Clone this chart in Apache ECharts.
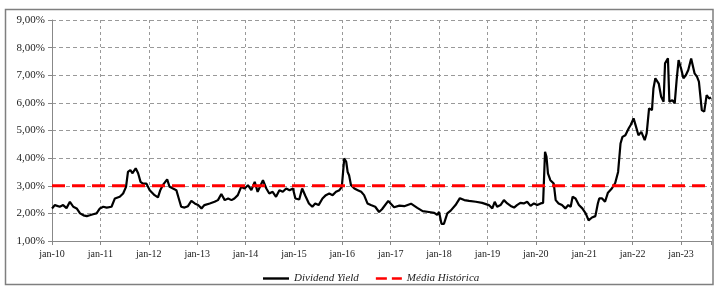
<!DOCTYPE html>
<html>
<head>
<meta charset="UTF-8">
<title>Dividend Yield</title>
<script src="https://cdn.jsdelivr.net/npm/echarts@6/dist/echarts.min.js"></script>
<style>
  html, body { margin: 0; padding: 0; background: #fff; }
  #chart { width: 714px; height: 286px; }
</style>
</head>
<body>
<div id="chart"></div>
<script>
// anos em fração decimal (2010 = jan-10)
var xMin = 2010, xMax = 2023.62;
var mediaHistorica = 3.0;
var yTicks = [1, 2, 3, 4, 5, 6, 7, 8, 9];

var anos = [
  0.00, 0.06, 0.16, 0.23, 0.30, 0.37, 0.44, 0.51, 0.58, 0.65, 0.72, 0.78, 0.85, 0.92, 0.99,
  1.06, 1.13, 1.23, 1.30, 1.40, 1.47, 1.53, 1.57, 1.62, 1.66, 1.73, 1.78, 1.83, 1.88, 1.95,
  2.02, 2.12, 2.19, 2.24, 2.29, 2.38, 2.43, 2.50, 2.57, 2.62, 2.67, 2.74, 2.81, 2.88, 2.95,
  3.02, 3.09, 3.15, 3.26, 3.36, 3.43, 3.50, 3.57, 3.64, 3.71, 3.77, 3.84, 3.91, 3.98,
  4.05, 4.12, 4.19, 4.25, 4.36, 4.43, 4.49, 4.56, 4.63, 4.70, 4.77, 4.84, 4.91, 4.98,
  5.03, 5.11, 5.17, 5.24, 5.31, 5.38, 5.44, 5.51, 5.59, 5.66, 5.73, 5.80, 5.87, 5.94, 5.99,
  6.04, 6.08, 6.11, 6.14, 6.18, 6.25, 6.32, 6.39, 6.45, 6.52, 6.59, 6.68, 6.76, 6.82, 6.95,
  7.07, 7.18, 7.28, 7.42, 7.55, 7.66, 7.79, 7.90, 7.96,
  8.00, 8.05, 8.10, 8.17, 8.24, 8.34, 8.43, 8.52, 8.62, 8.76, 8.89,
  9.03, 9.10, 9.15, 9.20, 9.27, 9.34, 9.41, 9.48, 9.55, 9.61, 9.68, 9.75, 9.82, 9.89, 9.96,
  10.03, 10.10, 10.15, 10.19, 10.22, 10.25, 10.30, 10.37, 10.41, 10.47, 10.54, 10.61, 10.67,
  10.72, 10.76, 10.82, 10.89, 10.96,
  11.03, 11.09, 11.16, 11.23, 11.28, 11.31, 11.37, 11.43, 11.49, 11.57, 11.64, 11.70, 11.75,
  11.79, 11.85, 11.92, 11.96,
  12.02, 12.07, 12.12, 12.18, 12.25, 12.29, 12.34, 12.40, 12.43, 12.47, 12.54, 12.59, 12.64,
  12.67, 12.73, 12.76, 12.82, 12.87, 12.91, 12.95,
  13.00, 13.05, 13.10, 13.15, 13.21, 13.28, 13.33, 13.37, 13.43, 13.48, 13.53, 13.58, 13.62
];

var dividendYield = [
  2.18, 2.30, 2.24, 2.30, 2.19, 2.42, 2.24, 2.18, 2.00, 1.93, 1.90, 1.93, 1.97, 2.00, 2.18,
  2.24, 2.21, 2.24, 2.54, 2.60, 2.72, 2.96, 3.50, 3.57, 3.45, 3.63, 3.45, 3.14, 3.08, 3.08,
  2.84, 2.66, 2.58, 2.85, 3.02, 3.23, 2.96, 2.90, 2.84, 2.54, 2.24, 2.21, 2.26, 2.45, 2.36,
  2.30, 2.18, 2.30, 2.36, 2.42, 2.48, 2.70, 2.48, 2.54, 2.48, 2.54, 2.66, 2.96, 2.90,
  3.02, 2.84, 3.14, 2.78, 3.20, 2.90, 2.72, 2.78, 2.60, 2.84, 2.78, 2.90, 2.84, 2.90,
  2.54, 2.50, 2.90, 2.62, 2.36, 2.24, 2.36, 2.30, 2.54, 2.66, 2.72, 2.66, 2.78, 2.84, 2.96,
  3.99, 3.87, 3.50, 3.38, 3.02, 2.90, 2.84, 2.78, 2.66, 2.36, 2.30, 2.24, 2.05, 2.15, 2.45,
  2.22, 2.28, 2.26, 2.35, 2.20, 2.08, 2.05, 2.02, 1.95,
  2.05, 1.62, 1.62, 2.00, 2.10, 2.30, 2.55, 2.48, 2.45, 2.42, 2.38,
  2.30, 2.18, 2.42, 2.24, 2.30, 2.48, 2.36, 2.27, 2.21, 2.30, 2.38, 2.36, 2.42, 2.27, 2.36,
  2.30, 2.36, 2.38, 4.23, 4.05, 3.45, 3.20, 3.08, 2.48, 2.36, 2.30, 2.18, 2.30,
  2.24, 2.60, 2.54, 2.30, 2.18,
  2.00, 1.75, 1.85, 1.90, 2.35, 2.54, 2.54, 2.42, 2.75, 2.90, 3.10, 3.50, 4.53,
  4.77, 4.83, 5.08, 5.20,
  5.44, 5.14, 4.83, 4.95, 4.65, 4.89, 5.80, 5.74, 6.52, 6.89, 6.70, 6.22, 6.04,
  7.43, 7.61, 6.04, 6.10, 5.98, 6.83, 7.55,
  7.25, 6.89, 7.00, 7.19, 7.61, 7.07, 6.95, 6.77, 5.74, 5.68, 6.28, 6.16, 6.20
];

var serieDY = anos.map(function (a, i) { return [xMin + a, dividendYield[i]]; });
var serieMedia = [[xMin, mediaHistorica], [xMax, mediaHistorica]];

var chart = echarts.init(document.getElementById('chart'));
var fonte = '"Liberation Serif", "DejaVu Serif", serif';

var option = {
  animation: false,
  backgroundColor: '#fff',
  textStyle: { fontFamily: fonte },
  graphic: [{
    type: 'rect',
    shape: { x: 5.5, y: 9.5, width: 707.5, height: 275 },
    style: { fill: 'none', stroke: '#7f7f7f', lineWidth: 1.5 },
    silent: true, z: -1
  }],
  grid: { left: 52, right: 2, top: 20, bottom: 45 },
  legend: {
    left: 258, top: 268,
    itemWidth: 26, itemHeight: 2.4, itemGap: 17,
    textStyle: { fontFamily: fonte, fontStyle: 'italic', fontSize: 11, color: '#222' },
    data: [
      { name: 'Dividend Yield', icon: 'path://M0,0H26V2.4H0Z', itemStyle: { color: '#000' } },
      { name: 'Média Histórica', icon: 'path://M0,0H11V2.4H0Z M16,0H26V2.4H16Z', itemStyle: { color: '#ff0000' } }
    ]
  },
  xAxis: {
    type: 'value',
    min: xMin, max: xMax, interval: 1,
    axisLine: { lineStyle: { color: '#888', width: 1 } },
    axisTick: { show: true, length: 4, lineStyle: { color: '#888' } },
    axisLabel: {
      fontFamily: fonte, fontSize: 10, color: '#222', margin: 8,
      formatter: function (v) {
        if (Math.abs(v - Math.round(v)) > 0.001) return '';
        return 'jan-' + String(Math.round(v)).slice(2);
      }
    },
    splitLine: { show: true, lineStyle: { color: '#999', type: [3, 3], width: 1 } }
  },
  yAxis: {
    type: 'value',
    min: yTicks[0], max: yTicks[yTicks.length - 1], interval: 1,
    axisLine: { show: true, lineStyle: { color: '#888', width: 1 } },
    axisTick: { show: true, length: 4, lineStyle: { color: '#888' } },
    axisLabel: {
      fontFamily: fonte, fontSize: 11, color: '#222', margin: 7,
      formatter: function (v) { return v.toFixed(2).replace('.', ',') + '%'; }
    },
    splitLine: { show: true, lineStyle: { color: '#999', type: [4, 3], width: 1 } }
  },
  series: [
    {
      name: 'Dividend Yield',
      type: 'line',
      data: serieDY,
      showSymbol: false, symbol: 'none',
      lineStyle: { color: '#000', width: 2.2 },
      itemStyle: { color: '#000' },
      z: 3
    },
    {
      name: 'Média Histórica',
      type: 'line',
      data: serieMedia,
      showSymbol: false, symbol: 'none',
      lineStyle: { color: '#ff0000', width: 3, type: [13, 7] },
      itemStyle: { color: '#ff0000' },
      z: 4
    }
  ]
};

chart.setOption(option);
</script>
</body>
</html>
